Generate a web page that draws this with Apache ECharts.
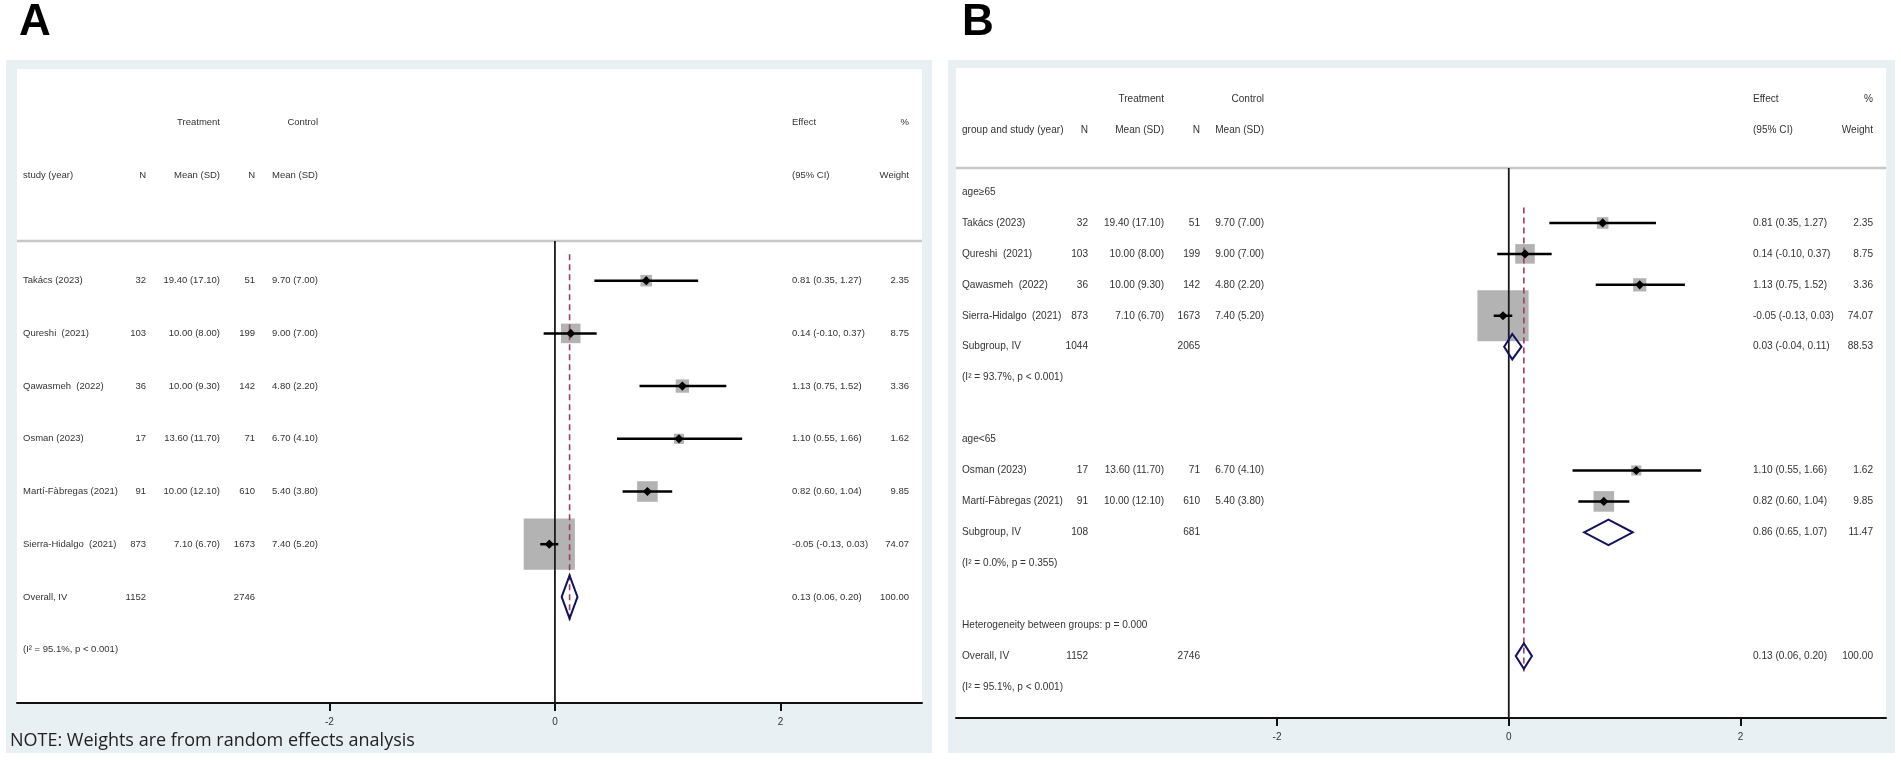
<!DOCTYPE html>
<html><head><meta charset="utf-8">
<script src="https://cdn.jsdelivr.net/npm/echarts@6/dist/echarts.min.js"></script>
<style>html,body{margin:0;padding:0;background:#fff}#c{width:1901px;height:760px}</style>
</head><body><div id="c"></div>
<script>
// ---------------- data ----------------
const studyNames = ['Takács (2023)','Qureshi  (2021)','Qawasmeh  (2022)','Osman (2023)','Martí-Fàbregas (2021)','Sierra-Hidalgo  (2021)'];
const treatN    = [32, 103, 36, 17, 91, 873];
const treatMean = [19.40, 10.00, 10.00, 13.60, 10.00, 7.10];
const treatSD   = [17.10, 8.00, 9.30, 11.70, 12.10, 6.70];
const ctrlN     = [51, 199, 142, 71, 610, 1673];
const ctrlMean  = [9.70, 9.00, 4.80, 6.70, 5.40, 7.40];
const ctrlSD    = [7.00, 7.00, 2.20, 4.10, 3.80, 5.20];
const effect    = [0.81, 0.14, 1.13, 1.10, 0.82, -0.05];
const ciLow     = [0.35, -0.10, 0.75, 0.55, 0.60, -0.13];
const ciHigh    = [1.27, 0.37, 1.52, 1.66, 1.04, 0.03];
const weight    = [2.35, 8.75, 3.36, 1.62, 9.85, 74.07];

const groupNames   = ['age≥65', 'age<65'];
const groupMembers = [[0, 1, 2, 5], [3, 4]];
const subgroupN1   = [1044, 108];
const subgroupN2   = [2065, 681];
const subgroupEff  = [0.03, 0.86];
const subgroupLo   = [-0.04, 0.65];
const subgroupHi   = [0.11, 1.07];
const subgroupW    = [88.53, 11.47];
const subgroupI2   = ['93.7%', '0.0%'];
const subgroupP    = ['p < 0.001', 'p = 0.355'];

const overallN   = [1152, 2746];
const overallCI  = [0.13, 0.06, 0.20];
const overallW   = [100.00];
const overallI2  = ['95.1%'];
const overallP   = ['p < 0.001'];
const betweenP   = ['0.000'];
const xTicks     = [-2, 0, 2];

// ---------------- layout ----------------
const FONT = '"Liberation Sans", Arial, sans-serif';
const PA = {left:17, top:241, width:905, height:462, rowMin:-0.753, rowMax:8.013, font:9.5,
  cols:{name:6, n1:129, m1:203, n2:238, m2:301, eff:775, w:892}};
const PB = {left:956, top:168, width:930, height:550, rowMin:-0.776, rowMax:17.0, font:10.1,
  cols:{name:6, n1:132, m1:208, n2:244, m2:308, eff:797, w:917}};
const X_MIN = -4.77, X_MAX = 3.255;

const f2 = v => v.toFixed(2);
const ms = (m, s) => f2(m) + ' (' + f2(s) + ')';
const ef = (e, l, h) => f2(e) + ' (' + f2(l) + ', ' + f2(h) + ')';

function newMarks(firstLabel){
  const m = {box:[], ci:[], pt:[], pooled:[], text:[], dash:[]};
  m.text.push({r:-3, cells:[['m1','Treatment','right'],['m2','Control','right'],['eff','Effect','left'],['w','%','right']]});
  m.text.push({r:-2, cells:[['name',firstLabel,'left'],['n1','N','right'],['m1','Mean (SD)','right'],['n2','N','right'],['m2','Mean (SD)','right'],['eff','(95% CI)','left'],['w','Weight','right']]});
  return m;
}
function addStudy(m, i, r){
  m.box.push([effect[i], r, weight[i]]);
  m.ci.push([effect[i], ciLow[i], ciHigh[i], r]);
  m.pt.push([effect[i], r]);
  m.text.push({r, cells:[['name',studyNames[i],'left'],['n1',String(treatN[i]),'right'],['m1',ms(treatMean[i],treatSD[i]),'right'],
    ['n2',String(ctrlN[i]),'right'],['m2',ms(ctrlMean[i],ctrlSD[i]),'right'],['eff',ef(effect[i],ciLow[i],ciHigh[i]),'left'],['w',f2(weight[i]),'right']]});
}
function addPooled(m, r, label, n1, n2, e, l, h, w){
  m.pooled.push([e, l, h, r]);
  m.text.push({r, cells:[['name',label,'left'],['n1',String(n1),'right'],['n2',String(n2),'right'],['eff',ef(e,l,h),'left'],['w',f2(w),'right']]});
}
function addNote(m, r, txt){ m.text.push({r, cells:[['name',txt,'left']]}); }

// Panel A
const mA = newMarks('study (year)');
studyNames.forEach((_, i) => addStudy(mA, i, i));
addPooled(mA, 6, 'Overall, IV', overallN[0], overallN[1], overallCI[0], overallCI[1], overallCI[2], overallW[0]);
addNote(mA, 7, '(I² = ' + overallI2[0] + ', ' + overallP[0] + ')');
mA.dash.push([overallCI[0], -0.5, 6.5]);

// Panel B
const mB = newMarks('group and study (year)');
let r = 0;
groupNames.forEach((g, gi) => {
  addNote(mB, r, g); r++;
  groupMembers[gi].forEach(i => { addStudy(mB, i, r); r++; });
  addPooled(mB, r, 'Subgroup, IV', subgroupN1[gi], subgroupN2[gi], subgroupEff[gi], subgroupLo[gi], subgroupHi[gi], subgroupW[gi]); r++;
  addNote(mB, r, '(I² = ' + subgroupI2[gi] + ', ' + subgroupP[gi] + ')'); r++;
  r++; // blank row
});
addNote(mB, r, 'Heterogeneity between groups: p = ' + betweenP[0]); r++;
addPooled(mB, r, 'Overall, IV', overallN[0], overallN[1], overallCI[0], overallCI[1], overallCI[2], overallW[0]);
mB.dash.push([overallCI[0], 0.5, r + 0.5]); r++;
addNote(mB, r, '(I² = ' + overallI2[0] + ', ' + overallP[0] + ')');

// ---------------- render helpers ----------------
function boxRender(params, api){
  const c = api.coord([api.value(0), api.value(1)]);
  const s = 3 + 5.6 * Math.sqrt(api.value(2));
  return {type:'rect', shape:{x:c[0]-s/2, y:c[1]-s/2, width:s, height:s}, style:{fill:'#b3b3b3'}};
}
function ciRender(params, api){
  const a = api.coord([api.value(1), api.value(3)]);
  const b = api.coord([api.value(2), api.value(3)]);
  return {type:'line', shape:{x1:a[0], y1:a[1], x2:b[0], y2:b[1]}, style:{stroke:'#000', lineWidth:2.5}};
}
function ptRender(params, api){
  const c = api.coord([api.value(0), api.value(1)]);
  const d = 4.6;
  return {type:'polygon', shape:{points:[[c[0]-d,c[1]],[c[0],c[1]-d],[c[0]+d,c[1]],[c[0],c[1]+d]]}, style:{fill:'#000'}};
}
function pooledRender(params, api){
  const e = api.value(0), l = api.value(1), h = api.value(2), rr = api.value(3);
  const hh = 0.41;
  const p1 = api.coord([l, rr]), p2 = api.coord([e, rr - hh]), p3 = api.coord([h, rr]), p4 = api.coord([e, rr + hh]);
  return {type:'polygon', shape:{points:[p1,p2,p3,p4]}, style:{fill:'none', stroke:'#13125e', lineWidth:2}};
}
function zeroRender(params, api){
  const c = api.coord([api.value(0), 0]);
  const cs = params.coordSys;
  return {type:'line', shape:{x1:c[0], y1:cs.y, x2:c[0], y2:cs.y+cs.height}, style:{stroke:'#1a1a1a', lineWidth:1.8}};
}
function dashRender(params, api){
  const a = api.coord([api.value(0), api.value(1)]);
  const b = api.coord([api.value(0), api.value(2)]);
  return {type:'line', shape:{x1:a[0], y1:a[1], x2:b[0], y2:b[1]}, style:{stroke:'#9e3f55', lineWidth:1.6, lineDash:[6,4]}};
}
function textRenderFactory(panel, rows){
  return function(params, api){
    const row = rows[params.dataIndex];
    const y = api.coord([0, row.r])[1];
    const x0 = params.coordSys.x;
    return {type:'group', children: row.cells.map(c => ({
      type:'text', x: x0 + panel.cols[c[0]], y: y,
      style:{text:c[1], fill:'#333', font: panel.font + 'px ' + FONT,
        textAlign:c[2], textVerticalAlign:'middle', align:c[2], verticalAlign:'middle'}
    }))};
  };
}

function panelSeries(idx, panel, m){
  const base = {type:'custom', xAxisIndex:idx, yAxisIndex:idx, silent:true, animation:false};
  return [
    Object.assign({}, base, {name:'boxes'+idx, z:2, data:m.box, renderItem:boxRender}),
    Object.assign({}, base, {name:'zero'+idx, z:3, data:[[0,0]], renderItem:zeroRender}),
    Object.assign({}, base, {name:'dash'+idx, z:3, data:m.dash, renderItem:dashRender}),
    Object.assign({}, base, {name:'ci'+idx, z:4, data:m.ci, renderItem:ciRender}),
    Object.assign({}, base, {name:'pt'+idx, z:5, data:m.pt, renderItem:ptRender}),
    Object.assign({}, base, {name:'pooled'+idx, z:5, data:m.pooled, renderItem:pooledRender}),
    Object.assign({}, base, {name:'text'+idx, z:6, clip:false, data:m.text.map(t => [0, t.r]), renderItem:textRenderFactory(panel, m.text)})
  ];
}

function xAxisFor(idx){
  return {type:'value', gridIndex:idx, min:X_MIN, max:X_MAX, position:'bottom',
    axisLine:{show:true, onZero:false, lineStyle:{color:'#111', width:2}},
    axisTick:{show:true, customValues:xTicks, length:8, lineStyle:{color:'#111', width:2}},
    axisLabel:{show:true, customValues:xTicks, fontSize:10, color:'#333', margin:14, fontFamily:FONT},
    splitLine:{show:false}};
}
function yAxisFor(idx, panel){
  return {type:'value', gridIndex:idx, inverse:true, min:panel.rowMin, max:panel.rowMax, show:false};
}

const chart = echarts.init(document.getElementById('c'), null, {width:1901, height:760});
chart.setOption({
  backgroundColor:'#ffffff',
  animation:false,
  grid:[
    {left:PA.left, top:PA.top, width:PA.width, height:PA.height, containLabel:false},
    {left:PB.left, top:PB.top, width:PB.width, height:PB.height, containLabel:false}
  ],
  xAxis:[xAxisFor(0), xAxisFor(1)],
  yAxis:[yAxisFor(0, PA), yAxisFor(1, PB)],
  graphic:[
    {type:'rect', z:-10, shape:{x:6, y:60, width:926, height:693}, style:{fill:'#e8f0f3'}},
    {type:'rect', z:-9, shape:{x:PA.left, y:69, width:PA.width, height:PA.top + PA.height - 69}, style:{fill:'#ffffff'}},
    {type:'rect', z:-10, shape:{x:948, y:60, width:947, height:693}, style:{fill:'#e8f0f3'}},
    {type:'rect', z:-9, shape:{x:PB.left, y:68, width:PB.width, height:PB.top + PB.height - 68}, style:{fill:'#ffffff'}},
    {type:'line', z:1, shape:{x1:PA.left, y1:PA.top, x2:PA.left+PA.width, y2:PA.top}, style:{stroke:'#c8c8c8', lineWidth:2.5}},
    {type:'line', z:1, shape:{x1:PB.left, y1:PB.top, x2:PB.left+PB.width, y2:PB.top}, style:{stroke:'#c8c8c8', lineWidth:2.5}},
    {type:'text', z:10, x:19, y:23, style:{text:'A', font:'bold 44px ' + FONT, fill:'#000', verticalAlign:'middle', textVerticalAlign:'middle'}},
    {type:'text', z:10, x:962, y:23, style:{text:'B', font:'bold 44px ' + FONT, fill:'#000', verticalAlign:'middle', textVerticalAlign:'middle'}},
    {type:'text', z:10, x:10, y:741, style:{text:'NOTE: Weights are from random effects analysis', font:'18px "Open Sans", "Noto Sans", sans-serif', fill:'#222', verticalAlign:'middle', textVerticalAlign:'middle'}}
  ],
  series: panelSeries(0, PA, mA).concat(panelSeries(1, PB, mB))
});
</script>
</body></html>
